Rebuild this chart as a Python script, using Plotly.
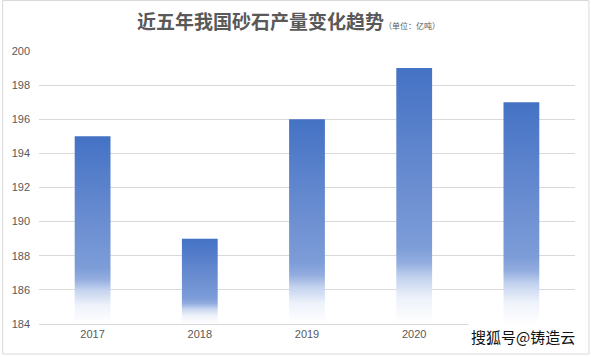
import plotly.graph_objects as go

years = ["2017", "2018", "2019", "2020", "2021"]
output = [195, 189, 196, 199, 197]
y_ticks = [184, 186, 188, 190, 192, 194, 196, 198, 200]
y_base = 184
bar_half = 0.167

W, H = 591, 357
ML, MR, MT, MB = 37, 16, 51, 33

grad = [[0.0, "#ffffff"], [0.1, "#eef2fa"], [0.18, "#c4d3ef"], [0.24, "#92acdf"],
        [0.3, "#7d9dd8"], [0.55, "#6a8dd1"], [1.0, "#4472c4"]]

fig = go.Figure()
for i, v in enumerate(output):
    xs = [i - bar_half, i + bar_half, i + bar_half, i - bar_half, i - bar_half]
    ys = [y_base, y_base, v, v, y_base]
    fig.add_trace(go.Scatter(
        x=xs, y=ys, mode="lines", fill="toself",
        line=dict(width=0, color="rgba(0,0,0,0)"),
        fillgradient=dict(type="vertical", colorscale=grad),
        hoverinfo="skip", showlegend=False,
    ))

pw = W - ML - MR
ph = H - MT - MB
fig.add_shape(type="rect", xref="paper", yref="paper",
              x0=(0.5 - ML) / pw, x1=(589 - ML) / pw,
              y0=(H - 354 - MB) / ph, y1=(H - 0.5 - MB) / ph,
              line=dict(color="#d9d9d9", width=1), fillcolor="rgba(0,0,0,0)", layer="below")

fig.update_layout(
    width=W, height=H,
    margin=dict(l=ML, r=MR, t=MT, b=MB),
    paper_bgcolor="white", plot_bgcolor="white",
    xaxis=dict(range=[-0.5, len(years) - 0.5], tickmode="array",
               tickvals=list(range(len(years))), ticktext=years,
               showgrid=False, zeroline=False, showline=True,
               linecolor="#d9d9d9", linewidth=1,
               tickfont=dict(family="Liberation Sans", size=11, color="#595959"),
               ticks="", fixedrange=True),
    yaxis=dict(range=[184, 200], tickvals=y_ticks,
               showgrid=True, gridcolor="#d9d9d9", gridwidth=1,
               zeroline=False, showline=False,
               tickfont=dict(family="Liberation Sans", size=11, color="#595959"),
               ticks="", ticklabelstandoff=8, fixedrange=True),
    annotations=[
        dict(xref="paper", yref="paper",
             x=(287 - ML) / pw, y=(H - 21 - MB) / ph,
             xanchor="center", yanchor="middle", showarrow=False,
             text="<b>近五年我国砂石产量变化趋势</b><span style='font-size:8px'>（单位：亿吨）</span>",
             font=dict(family="Noto Sans CJK SC", size=19, color="#595959")),
        dict(xref="paper", yref="paper",
             x=(578 - ML) / pw, y=(H - 336 - MB) / ph,
             xanchor="right", yanchor="middle", showarrow=False,
             bgcolor="white", borderpad=2,
             text="搜狐号@铸造云",
             font=dict(family="Noto Sans CJK SC", size=15, color="#111111")),
    ],
)

fig.write_html("out.html", config={"displayModeBar": False},
               post_script="document.body.style.margin='0';document.body.style.padding='0';")
